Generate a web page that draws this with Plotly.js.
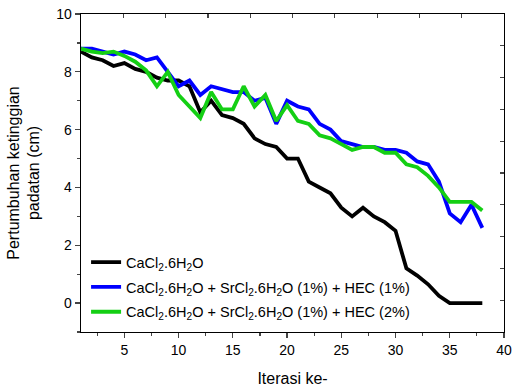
<!DOCTYPE html>
<html>
<head>
<meta charset="utf-8">
<script src="https://cdn.plot.ly/plotly-3.0.1.min.js"></script>
<style>html,body{margin:0;padding:0;background:#fff;}#chart{width:512px;height:387px;}</style>
</head>
<body>
<div id="chart"></div>
<script>
var iterations = [1,2,3,4,5,6,7,8,9,10,11,12,13,14,15,16,17,18,19,20,21,22,23,24,25,26,27,28,29,30,31,32,33,34,35,36,37,38];
var seriesNames = [
  'CaCl<sub>2</sub>.6H<sub>2</sub>O',
  'CaCl<sub>2</sub>.6H<sub>2</sub>O + SrCl<sub>2</sub>.6H<sub>2</sub>O (1%) + HEC (1%)',
  'CaCl<sub>2</sub>.6H<sub>2</sub>O + SrCl<sub>2</sub>.6H<sub>2</sub>O (1%) + HEC (2%)'
];
var pureCaCl2 = [8.7,8.5,8.4,8.2,8.3,8.1,8.0,7.8,7.7,7.7,7.5,6.6,7.0,6.5,6.4,6.2,5.7,5.5,5.4,5.0,5.0,4.2,4.0,3.8,3.3,3.0,3.3,3.0,2.8,2.5,1.2,0.95,0.65,0.25,0,0,0,0];
var hec1 = [8.8,8.8,8.7,8.6,8.7,8.6,8.4,8.5,8.0,7.5,7.7,7.2,7.5,7.4,7.3,7.3,7.0,7.1,6.2,7.0,6.8,6.7,6.2,6.0,5.6,5.5,5.4,5.4,5.3,5.3,5.2,4.9,4.8,4.2,3.1,2.8,3.4,2.6];
var hec2 = [8.8,8.7,8.65,8.7,8.55,8.35,8.05,7.5,8.0,7.2,6.8,6.4,7.3,6.7,6.7,7.5,6.8,7.2,6.3,6.85,6.3,6.2,5.8,5.7,5.5,5.3,5.4,5.4,5.2,5.2,4.8,4.7,4.4,4.0,3.5,3.5,3.5,3.2];
var xTitle = 'Iterasi ke-';
var yTitle = 'Pertumbuhan ketinggian<br>padatan (cm)';

var fontFam = 'Liberation Sans, Arial, sans-serif';
var traces = [
  {x: iterations, y: pureCaCl2, name: seriesNames[0], legendgroup: 'a', mode: 'lines', line: {color: '#000000', width: 3.8}},
  {x: iterations, y: hec1, name: seriesNames[1], legendgroup: 'b', mode: 'lines', line: {color: '#0000ff', width: 3.8}},
  {x: iterations, y: hec2, name: seriesNames[2], legendgroup: 'c', mode: 'lines', line: {color: '#14cf14', width: 3.8}},
  {x: [], y: [], xaxis: 'x2', yaxis: 'y2', showlegend: false, hoverinfo: 'skip', mode: 'lines'}
];
var layout = {
  width: 512, height: 387,
  margin: {l: 81, r: 8, t: 14, b: 55},
  paper_bgcolor: '#ffffff', plot_bgcolor: '#ffffff',
  font: {family: fontFam, size: 14, color: '#000'},
  showlegend: true,
  legend: {x: 0.012, y: 0.27, xanchor: 'left', yanchor: 'top', bgcolor: 'rgba(0,0,0,0)',
           font: {family: fontFam, size: 14.5, color: '#000'}, tracegroupgap: 3, itemwidth: 30},
  xaxis: {range: [1, 40], tick0: 0, dtick: 5, ticks: 'outside', ticklen: 5, tickwidth: 1.2,
          minor: {dtick: 2.5, ticks: 'outside', ticklen: 3, tickwidth: 1.2},
          showline: true, linewidth: 1.3, linecolor: '#000', showgrid: false, zeroline: false,
          tickfont: {family: fontFam, size: 14},
          title: {text: xTitle, font: {family: fontFam, size: 16}, standoff: 16}},
  yaxis: {range: [-1, 10], tick0: 0, dtick: 2, ticks: 'outside', ticklen: 5, tickwidth: 1.2,
          minor: {dtick: 1, ticks: 'outside', ticklen: 3, tickwidth: 1.2},
          showline: true, linewidth: 1.3, linecolor: '#000', showgrid: false, zeroline: false,
          tickfont: {family: fontFam, size: 14},
          title: {text: yTitle, font: {family: fontFam, size: 16}, standoff: 12}},
  xaxis2: {overlaying: 'x', side: 'top', anchor: 'y', range: [0, 10], dtick: 1, ticks: 'inside', ticklen: 4,
           tickwidth: 1.2, showticklabels: false, showline: true, linewidth: 1.3, linecolor: '#000',
           showgrid: false, zeroline: false},
  yaxis2: {overlaying: 'y', side: 'right', anchor: 'x', range: [0, 10], dtick: 1, ticks: 'inside', ticklen: 4,
           tickwidth: 1.2, showticklabels: false, showline: true, linewidth: 1.3, linecolor: '#000',
           showgrid: false, zeroline: false}
};
Plotly.newPlot('chart', traces, layout, {displayModeBar: false, staticPlot: true});
</script>
</body>
</html>
